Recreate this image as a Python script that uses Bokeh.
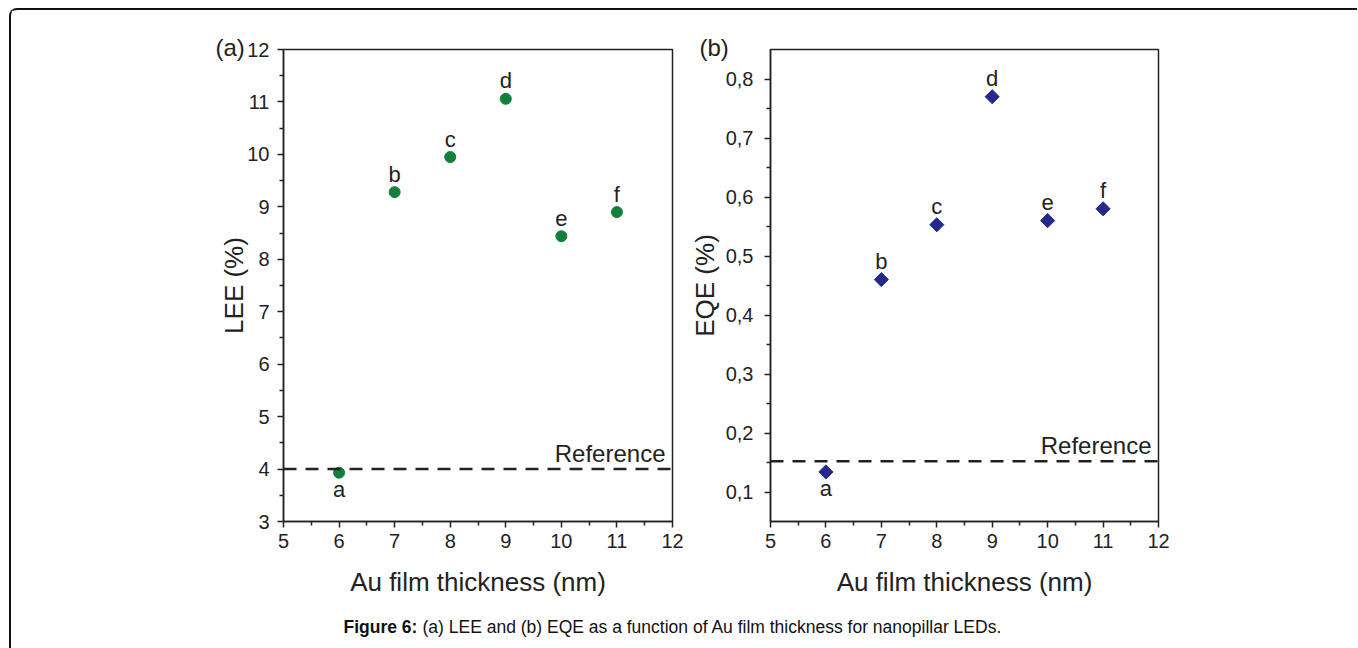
import math
from bokeh.plotting import figure
from bokeh.models import Span, Label, FixedTicker, CustomJSTickFormatter, ColumnDataSource
from bokeh.layouts import row, column
from bokeh.core.properties import value
from bokeh.embed import file_html
from bokeh.resources import INLINE

# ---- data ----
thickness = [6, 7, 8, 9, 10, 11]
point_labels = ["a", "b", "c", "d", "e", "f"]
lee = [3.93, 9.28, 9.95, 11.06, 8.44, 8.90]
eqe = [0.134, 0.460, 0.553, 0.770, 0.560, 0.580]
lee_reference = 4.0
eqe_reference = 0.152
x_ticks = [5, 6, 7, 8, 9, 10, 11, 12]
x_minor_ticks = [5.5, 6.5, 7.5, 8.5, 9.5, 10.5, 11.5]
lee_ticks = [3, 4, 5, 6, 7, 8, 9, 10, 11, 12]
lee_minor_ticks = [3.5, 4.5, 5.5, 6.5, 7.5, 8.5, 9.5, 10.5, 11.5]
eqe_ticks = [0.1, 0.2, 0.3, 0.4, 0.5, 0.6, 0.7, 0.8]
eqe_minor_ticks = [0.15, 0.25, 0.35, 0.45, 0.55, 0.65, 0.75]
x_title = "Au film thickness (nm)"
caption_bold = "Figure 6:"
caption_text = "(a) LEE and (b) EQE as a function of Au film thickness for nanopillar LEDs."

FONT = "Liberation Sans"
INK = "#222222"


def make_panel(values, reference, y_range, y_ticks, y_minor, y_title, panel_tag,
               marker, color, msize, angle, left, right, tag_dx,
               label_standoff, title_standoff, comma=False):
    frame_w, frame_h, top, bottom = 389, 472, 39, 79
    p = figure(width=left + frame_w + right, height=top + frame_h + bottom,
               x_range=(5, 12), y_range=y_range,
               output_backend="svg", toolbar_location=None,
               min_border_left=left, min_border_right=right,
               min_border_top=top, min_border_bottom=bottom)
    p.xgrid.visible = False
    p.ygrid.visible = False
    p.outline_line_color = INK
    p.outline_line_width = 1.5
    p.outline_line_alpha = 1
    p.xaxis.ticker = FixedTicker(ticks=x_ticks, minor_ticks=x_minor_ticks)
    p.yaxis.ticker = FixedTicker(ticks=y_ticks, minor_ticks=y_minor)
    if comma:
        p.yaxis.formatter = CustomJSTickFormatter(
            code="return tick.toFixed(1).replace('.', ',');")
    for ax in (p.xaxis[0], p.yaxis[0]):
        ax.axis_line_color = INK
        ax.axis_line_width = 1.5
        ax.major_tick_line_color = INK
        ax.major_tick_line_width = 1.5
        ax.minor_tick_line_color = INK
        ax.minor_tick_line_width = 1.5
        ax.major_tick_in = 0
        ax.major_tick_out = 6
        ax.minor_tick_in = 0
        ax.minor_tick_out = 4
        ax.major_label_text_font = FONT
        ax.major_label_text_font_size = "20px"
        ax.major_label_text_color = INK
        ax.axis_label_text_font = FONT
        ax.axis_label_text_font_size = "26px"
        ax.axis_label_text_font_style = "normal"
        ax.axis_label_text_color = INK
    p.xaxis.axis_label = x_title
    p.yaxis.axis_label = y_title
    p.xaxis.major_label_standoff = 6
    p.xaxis.axis_label_standoff = 16
    p.yaxis.major_label_standoff = label_standoff
    p.yaxis.axis_label_standoff = title_standoff

    # panel tag "(a)" / "(b)" next to the top-left frame corner
    p.title.text = panel_tag
    p.title.align = "left"
    p.title.offset = tag_dx
    p.title.standoff = -23
    p.title.text_font = FONT
    p.title.text_font_size = "24px"
    p.title.text_font_style = "normal"
    p.title.text_color = INK

    p.add_layout(Span(location=reference, dimension="width", line_color=INK,
                      line_width=2.5, line_dash="13 9"))

    dy = [17 if v < reference else -18 for v in values]
    src = ColumnDataSource(dict(x=thickness, y=values, t=point_labels, dy=dy))
    p.scatter("x", "y", source=src, marker=marker, size=msize, angle=angle,
              fill_color=color, line_color=color)
    p.text("x", "y", text="t", source=src, y_offset="dy",
           text_align="center", text_baseline="middle",
           text_font=value(FONT), text_font_size="22px", text_color=INK)

    p.add_layout(Label(x=12, y=reference, x_offset=-7, y_offset=16,
                       text="Reference", text_align="right",
                       text_baseline="middle", text_font=FONT,
                       text_font_size="24px", text_color=INK))
    return p


pa = make_panel(lee, lee_reference, (3, 12), lee_ticks, lee_minor_ticks,
                "LEE (%)", "(a)", "circle", "#12803a", 11, 0, 272, 14, -68,
                8, -5)
pb = make_panel(eqe, eqe_reference, (0.05, 0.85), eqe_ticks, eqe_minor_ticks,
                "EQE (%)", "(b)", "square", "#26288c", 10, math.pi / 4, 83, 199, -71,
                11, 3, comma=True)

cap = figure(width=1346, height=48, x_range=(0, 1346), y_range=(0, 48),
             output_backend="svg", toolbar_location=None, min_border=0)
cap.xaxis.visible = False
cap.yaxis.visible = False
cap.xgrid.visible = False
cap.ygrid.visible = False
cap.outline_line_color = None
cap.add_layout(Label(x=332, y=22, text=caption_bold, text_font=FONT,
                     text_font_size="17.5px", text_font_style="bold",
                     text_baseline="middle", text_align="left", text_color="#111111"))
cap.add_layout(Label(x=411, y=22, text=caption_text, text_font=FONT,
                     text_font_size="17.5px", text_baseline="middle",
                     text_align="left", text_color="#111111"))

layout = column(row(pa, pb), cap,
                styles={"border-left": "2px solid #111", "border-top": "2px solid #111",
                        "border-top-left-radius": "8px", "margin-left": "9px",
                        "margin-top": "8px"})

open("out.html", "w").write(file_html(layout, INLINE))
